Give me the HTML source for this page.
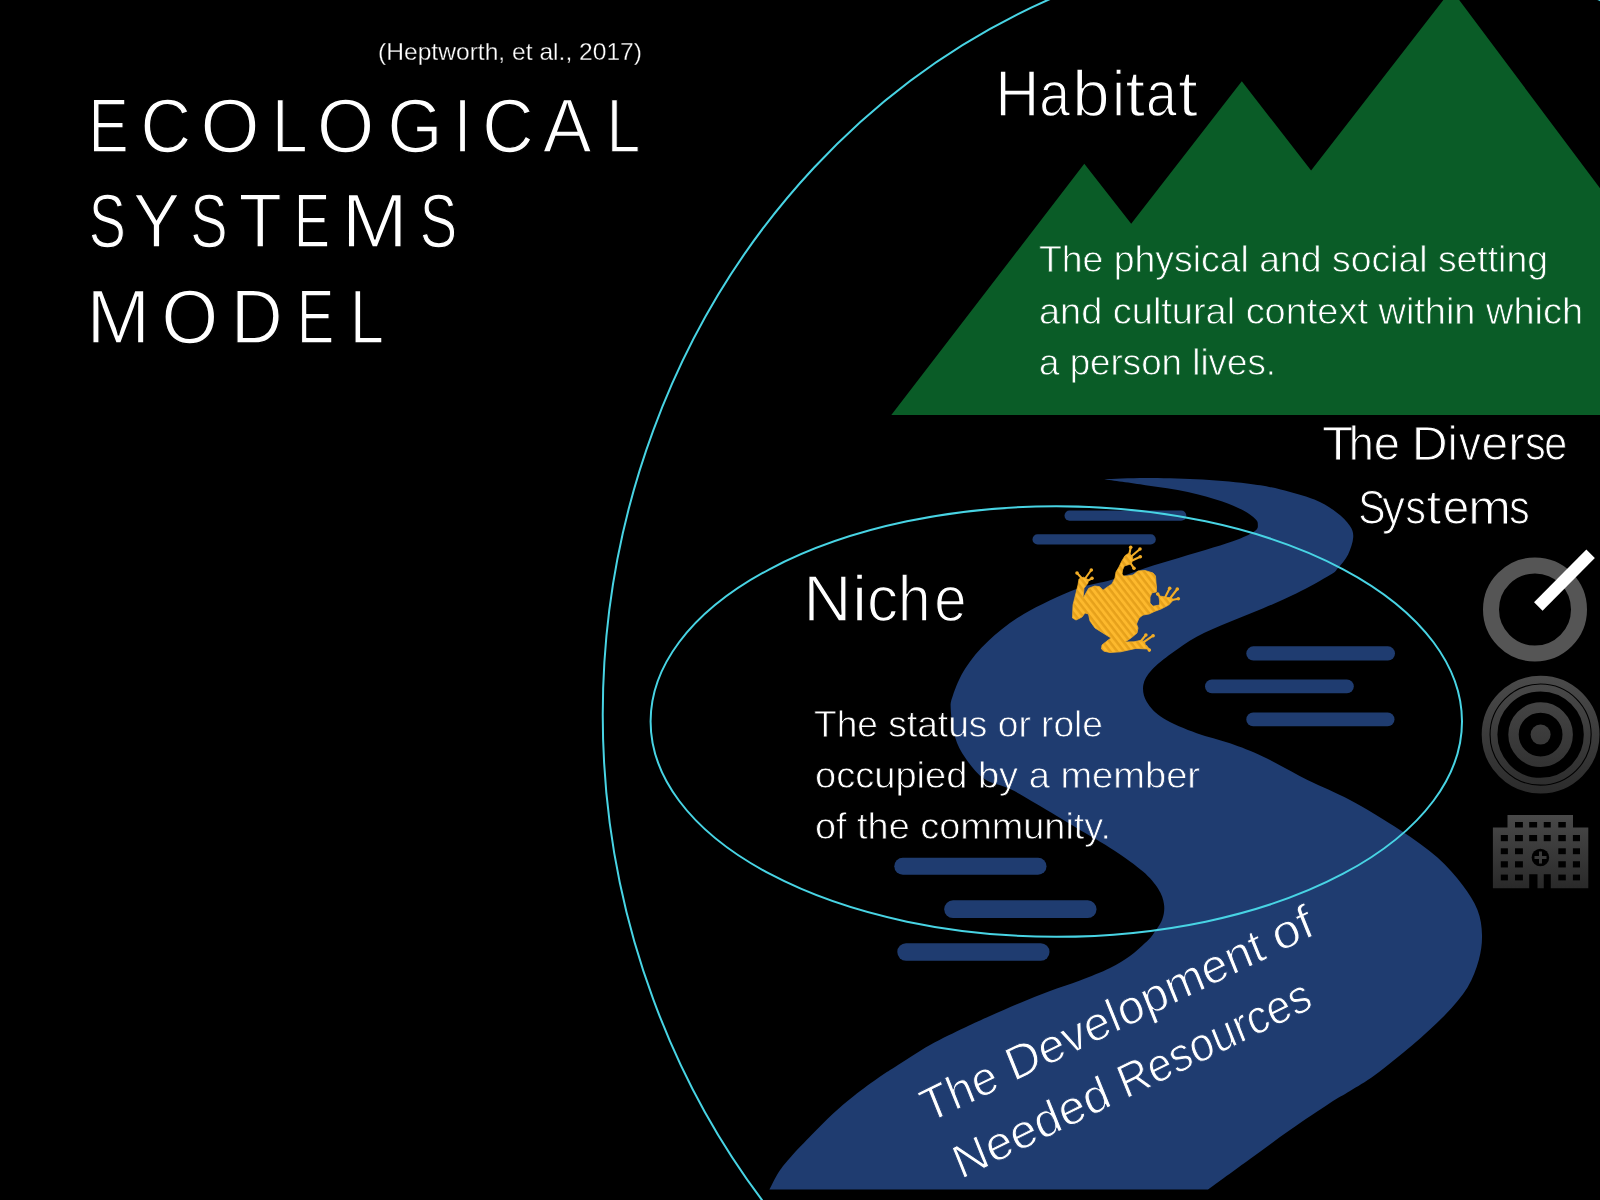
<!DOCTYPE html>
<html><head><meta charset="utf-8"><style>
html,body{margin:0;padding:0;background:#000;width:1600px;height:1200px;overflow:hidden}
svg{display:block}
text{font-family:"Liberation Sans",sans-serif;fill:#fff;stroke:#000}
</style></head><body>
<svg width="1600" height="1200" viewBox="0 0 1600 1200">
<defs>
<linearGradient id="g1" gradientUnits="userSpaceOnUse" x1="0" y1="678" x2="0" y2="792"><stop offset="0" stop-color="#4a4a4a"/><stop offset="1" stop-color="#2c2c2c"/></linearGradient>
<linearGradient id="g2" gradientUnits="userSpaceOnUse" x1="0" y1="815" x2="0" y2="889"><stop offset="0" stop-color="#494949"/><stop offset="1" stop-color="#292929"/></linearGradient>
<pattern id="stripe" width="5.4" height="5.4" patternUnits="userSpaceOnUse" patternTransform="rotate(52)"><rect width="5.4" height="5.4" fill="#fdb92d"/><rect width="5.4" height="2.5" fill="#e6a11b"/></pattern>
<mask id="tm" maskUnits="userSpaceOnUse" x="0" y="0" width="1600" height="1200">
<text id="cit" x="378.00" y="60.1" font-size="24" textLength="264.00" lengthAdjust="spacingAndGlyphs" stroke-width="0.3">(Heptworth, et al., 2017)</text>
<text id="t1" y="151.5" font-size="75.5" stroke-width="1.4"><tspan x="88.47" textLength="40.06" lengthAdjust="spacingAndGlyphs">E</tspan><tspan x="140.59" textLength="50.69" lengthAdjust="spacingAndGlyphs">C</tspan><tspan x="200.56" textLength="59.03" lengthAdjust="spacingAndGlyphs">O</tspan><tspan x="271.9" textLength="35.57" lengthAdjust="spacingAndGlyphs">L</tspan><tspan x="316.97" textLength="57.2" lengthAdjust="spacingAndGlyphs">O</tspan><tspan x="387.4" textLength="54.93" lengthAdjust="spacingAndGlyphs">G</tspan><tspan x="453.81" textLength="17.58" lengthAdjust="spacingAndGlyphs">I</tspan><tspan x="482.23" textLength="51.43" lengthAdjust="spacingAndGlyphs">C</tspan><tspan x="543.01" textLength="48.48" lengthAdjust="spacingAndGlyphs">A</tspan><tspan x="606.72" textLength="33.43" lengthAdjust="spacingAndGlyphs">L</tspan></text>
<text id="t2" y="247.2" font-size="75.5" stroke-width="1.4"><tspan x="88.77" textLength="37.13" lengthAdjust="spacingAndGlyphs">S</tspan><tspan x="133.0" textLength="47.0" lengthAdjust="spacingAndGlyphs">Y</tspan><tspan x="190.21" textLength="37.37" lengthAdjust="spacingAndGlyphs">S</tspan><tspan x="238.67" textLength="43.05" lengthAdjust="spacingAndGlyphs">T</tspan><tspan x="293.98" textLength="35.93" lengthAdjust="spacingAndGlyphs">E</tspan><tspan x="341.75" textLength="66.0" lengthAdjust="spacingAndGlyphs">M</tspan><tspan x="419.8" textLength="37.42" lengthAdjust="spacingAndGlyphs">S</tspan></text>
<text id="t3" y="342.5" font-size="75.5" stroke-width="1.4"><tspan x="86.48" textLength="63.63" lengthAdjust="spacingAndGlyphs">M</tspan><tspan x="161.6" textLength="56.63" lengthAdjust="spacingAndGlyphs">O</tspan><tspan x="230.88" textLength="51.64" lengthAdjust="spacingAndGlyphs">D</tspan><tspan x="297.08" textLength="37.17" lengthAdjust="spacingAndGlyphs">E</tspan><tspan x="349.95" textLength="33.87" lengthAdjust="spacingAndGlyphs">L</tspan></text>
<text id="hab" y="116" font-size="65" stroke-width="1.4"><tspan x="995.14" textLength="44.09" lengthAdjust="spacingAndGlyphs">H</tspan><tspan x="1039.21" textLength="30.73" lengthAdjust="spacingAndGlyphs">a</tspan><tspan x="1072.32" textLength="37.35" lengthAdjust="spacingAndGlyphs">b</tspan><tspan x="1112.34" textLength="12.64" lengthAdjust="spacingAndGlyphs">i</tspan><tspan x="1125.39" textLength="19.86" lengthAdjust="spacingAndGlyphs">t</tspan><tspan x="1145.99" textLength="30.73" lengthAdjust="spacingAndGlyphs">a</tspan><tspan x="1178.14" textLength="19.86" lengthAdjust="spacingAndGlyphs">t</tspan></text>
<text id="hd1" x="1039.00" y="272.4" font-size="37.8" textLength="509.00" lengthAdjust="spacingAndGlyphs" stroke-width="0.8">The physical and social setting</text>
<text id="hd2" x="1039.00" y="323.9" font-size="37.8" textLength="544.00" lengthAdjust="spacingAndGlyphs" stroke-width="0.8">and cultural context within which</text>
<text id="hd3" x="1039.00" y="374.7" font-size="37.8" textLength="237.00" lengthAdjust="spacingAndGlyphs" stroke-width="0.8">a person lives.</text>
<text id="dv1" y="460.2" font-size="48" stroke-width="1.0"><tspan x="1322.09" textLength="32.25" lengthAdjust="spacingAndGlyphs">T</tspan><tspan x="1348.82" textLength="25.11" lengthAdjust="spacingAndGlyphs">h</tspan><tspan x="1373.84" textLength="26.25" lengthAdjust="spacingAndGlyphs">e</tspan> <tspan x="1411.66" textLength="35.97" lengthAdjust="spacingAndGlyphs">D</tspan><tspan x="1447.68" textLength="9.86" lengthAdjust="spacingAndGlyphs">i</tspan><tspan x="1458.9" textLength="21.9" lengthAdjust="spacingAndGlyphs">v</tspan><tspan x="1481.52" textLength="26.61" lengthAdjust="spacingAndGlyphs">e</tspan><tspan x="1508.18" textLength="16.38" lengthAdjust="spacingAndGlyphs">r</tspan><tspan x="1525.27" textLength="20.4" lengthAdjust="spacingAndGlyphs">s</tspan><tspan x="1544.25" textLength="22.93" lengthAdjust="spacingAndGlyphs">e</tspan></text>
<text id="dv2" y="523.8" font-size="48" stroke-width="1.0"><tspan x="1358.18" textLength="27.21" lengthAdjust="spacingAndGlyphs">S</tspan><tspan x="1382.24" textLength="22.6" lengthAdjust="spacingAndGlyphs">y</tspan><tspan x="1405.47" textLength="20.4" lengthAdjust="spacingAndGlyphs">s</tspan><tspan x="1426.51" textLength="14.67" lengthAdjust="spacingAndGlyphs">t</tspan><tspan x="1442.72" textLength="26.55" lengthAdjust="spacingAndGlyphs">e</tspan><tspan x="1468.35" textLength="42.68" lengthAdjust="spacingAndGlyphs">m</tspan><tspan x="1509.22" textLength="20.4" lengthAdjust="spacingAndGlyphs">s</tspan></text>
<text id="nic" y="620.5" font-size="65" stroke-width="1.4"><tspan x="803.16" textLength="48.35" lengthAdjust="spacingAndGlyphs">N</tspan><tspan x="851.98" textLength="15.17" lengthAdjust="spacingAndGlyphs">i</tspan><tspan x="867.11" textLength="31.08" lengthAdjust="spacingAndGlyphs">c</tspan><tspan x="898.09" textLength="32.56" lengthAdjust="spacingAndGlyphs">h</tspan><tspan x="934.28" textLength="32.3" lengthAdjust="spacingAndGlyphs">e</tspan></text>
<text id="nd1" x="814.00" y="736.9" font-size="37.8" textLength="289.00" lengthAdjust="spacingAndGlyphs" stroke-width="0.8">The status or role</text>
<text id="nd2" x="815.00" y="788.2" font-size="37.8" textLength="385.00" lengthAdjust="spacingAndGlyphs" stroke-width="0.8">occupied by a member</text>
<text id="nd3" x="815.00" y="839.4" font-size="37.8" textLength="296.00" lengthAdjust="spacingAndGlyphs" stroke-width="0.8">of the community.</text>
<g transform="translate(931.3,1122.2) rotate(-26) skewX(-4)" stroke-width="1.0"><text y="0" font-size="47"><tspan x="-3.00" textLength="81.00" lengthAdjust="spacingAndGlyphs">The</tspan> <tspan x="91.50" textLength="283.00" lengthAdjust="spacingAndGlyphs">Development</tspan> <tspan x="386.50" textLength="42.50" lengthAdjust="spacingAndGlyphs">of</tspan></text><text y="64.5" font-size="47"><tspan x="5.75" textLength="170.25" lengthAdjust="spacingAndGlyphs">Needed</tspan> <tspan x="189.00" textLength="210.50" lengthAdjust="spacingAndGlyphs">Resources</tspan></text></g>
</mask>
</defs>
<rect width="1600" height="1200" fill="#000"/>
<polygon points="891.3,415 1084.3,163.8 1131.2,223.7 1241.8,81.2 1311.1,170.6 1451.4,-10.4 1600,188.3 1600,415" fill="#0a5c27"/>
<ellipse cx="1323.77" cy="714.85" rx="721.03" ry="773.73" fill="none" stroke="#48d4e4" stroke-width="2"/>
<path d="M1104.3,479.3 C1111.2,479.1 1130.3,478.1 1145.6,478.1 C1160.9,478.1 1179.3,478.4 1196.2,479.3 C1213.1,480.2 1232.8,481.8 1246.9,483.5 C1261.0,485.2 1269.3,486.7 1280.6,489.4 C1291.8,492.1 1305.1,495.7 1314.4,499.5 C1323.7,503.3 1330.4,507.8 1336.3,512.2 C1342.2,516.6 1347.0,521.5 1349.8,525.7 C1352.6,529.9 1353.5,532.7 1353.2,537.5 C1352.9,542.3 1350.6,549.3 1348.1,554.4 C1345.6,559.5 1341.0,564.5 1338.0,567.9 C1335.0,571.3 1336.9,570.8 1330.0,575.0 C1323.1,579.2 1307.8,587.8 1296.7,593.3 C1285.6,598.8 1274.4,603.6 1263.3,608.3 C1252.2,613.0 1241.1,617.0 1230.0,621.7 C1218.9,626.4 1206.4,631.4 1196.7,636.7 C1187.0,642.0 1179.2,647.8 1171.7,653.3 C1164.2,658.8 1156.4,664.7 1151.7,670.0 C1147.0,675.3 1144.1,679.7 1143.3,685.0 C1142.5,690.3 1143.4,696.2 1146.7,701.7 C1150.0,707.2 1155.0,713.0 1163.3,718.3 C1171.6,723.6 1185.6,729.1 1196.7,733.3 C1207.8,737.5 1218.9,739.4 1230.0,743.3 C1241.1,747.2 1250.4,750.6 1263.3,756.7 C1276.2,762.8 1293.0,772.8 1307.5,780.0 C1322.0,787.2 1334.6,791.7 1350.0,800.0 C1365.4,808.3 1385.4,820.4 1400.0,830.0 C1414.6,839.6 1427.1,848.3 1437.5,857.5 C1447.9,866.7 1455.8,876.2 1462.5,885.0 C1469.2,893.8 1474.2,901.7 1477.5,910.0 C1480.8,918.3 1481.8,926.7 1482.0,935.0 C1482.2,943.3 1481.2,951.2 1478.8,960.0 C1476.3,968.8 1473.1,978.3 1467.5,987.5 C1461.9,996.7 1454.2,1005.4 1445.0,1015.0 C1435.8,1024.6 1424.2,1035.0 1412.5,1045.0 C1400.8,1055.0 1385.4,1067.3 1375.0,1075.0 C1364.6,1082.7 1357.5,1086.3 1350.0,1091.0 C1342.5,1095.7 1340.0,1096.5 1330.0,1103.0 C1320.0,1109.5 1303.3,1120.7 1290.0,1130.0 C1276.7,1139.3 1263.7,1149.1 1250.0,1159.0 C1236.3,1168.9 1215.0,1184.5 1208.0,1189.6 L769.4,1189.6 C771.0,1186.7 775.1,1177.5 778.8,1172.0 C782.4,1166.5 785.7,1162.7 791.2,1156.5 C796.8,1150.3 805.1,1141.7 812.0,1134.6 C818.9,1127.5 825.9,1120.2 832.9,1113.8 C839.9,1107.3 845.9,1102.2 853.8,1096.0 C861.6,1089.8 872.9,1081.6 879.8,1076.8 C886.7,1072.0 886.6,1072.3 895.0,1067.0 C903.4,1061.7 918.3,1051.7 930.0,1045.1 C941.7,1038.5 955.0,1032.4 965.0,1027.6 C975.0,1022.7 980.8,1020.1 990.0,1016.0 C999.2,1011.9 1010.0,1007.2 1020.0,1003.0 C1030.0,998.8 1040.0,994.8 1050.0,991.0 C1060.0,987.2 1070.0,984.3 1080.0,980.5 C1090.0,976.7 1101.7,972.1 1110.0,968.0 C1118.3,963.9 1124.2,960.2 1130.0,956.0 C1135.8,951.8 1141.2,946.5 1145.0,943.0 C1148.8,939.5 1149.7,938.8 1152.6,934.9 C1155.5,931.0 1160.3,924.7 1162.2,919.6 C1164.1,914.5 1164.7,909.3 1164.0,904.2 C1163.3,899.1 1161.8,894.3 1158.3,888.9 C1154.8,883.5 1150.3,878.0 1143.0,871.6 C1135.7,865.2 1125.4,857.9 1114.2,850.5 C1103.0,843.1 1088.7,835.2 1075.9,827.5 C1063.1,819.8 1048.4,810.9 1037.5,804.5 C1026.6,798.1 1019.6,793.5 1010.7,789.2 C1001.8,784.9 991.5,784.0 984.0,778.8 C976.5,773.5 970.2,765.0 965.4,758.0 C960.6,751.0 957.4,745.0 955.0,737.0 C952.6,729.0 951.1,716.9 950.8,710.0 C950.4,703.1 950.5,702.4 952.9,695.4 C955.3,688.4 959.5,677.4 965.4,668.3 C971.3,659.2 978.6,650.0 988.3,641.0 C998.0,632.0 1009.2,622.6 1023.8,614.0 C1038.3,605.4 1061.1,594.9 1075.8,589.2 C1090.5,583.5 1100.3,583.2 1111.9,579.7 C1123.5,576.2 1134.3,571.6 1145.6,567.9 C1156.8,564.2 1168.2,561.1 1179.4,557.7 C1190.7,554.3 1203.3,550.7 1213.1,547.6 C1222.9,544.5 1231.4,542.0 1238.4,539.2 C1245.4,536.4 1252.1,533.2 1255.3,530.7 C1258.5,528.2 1257.8,526.0 1257.8,524.0 C1257.8,522.0 1257.7,521.1 1255.3,518.9 C1252.9,516.6 1249.1,513.5 1243.5,510.5 C1237.9,507.6 1230.9,504.3 1221.6,501.2 C1212.3,498.1 1200.5,494.6 1187.8,491.9 C1175.1,489.2 1159.5,487.3 1145.6,485.2 C1131.7,483.1 1111.2,480.3 1104.3,479.3 Z" fill="#1f3c70"/>
<g fill="#1f3c70">
<rect x="1064.5" y="510.5" width="121.8" height="10.3" rx="5.1"/>
<rect x="1032.5" y="534.2" width="123.3" height="10.3" rx="5.1"/>
<rect x="1246.3" y="646.3" width="148.7" height="14.2" rx="7.1"/>
<rect x="1205" y="679.5" width="148.8" height="13.8" rx="6.9"/>
<rect x="1246.3" y="712.5" width="148.2" height="13.8" rx="6.9"/>
<rect x="894.3" y="857.7" width="152.2" height="17.1" rx="8.5"/>
<rect x="944.2" y="900.3" width="152.3" height="17.7" rx="8.8"/>
<rect x="897.3" y="943.2" width="152.2" height="17.5" rx="8.7"/>
</g>
<ellipse cx="1056.3" cy="721.5" rx="405.7" ry="215.3" fill="none" stroke="#48d4e4" stroke-width="2"/>
<path d="M1138.0,571.0 L1145.0,570.5 L1153.0,573.0 L1155.5,576.0 L1156.0,583.0 L1156.5,587.0 L1156.3,592.0 L1152.0,592.8 L1150.0,597.0 L1150.0,603.0 L1153.0,606.2 L1159.5,605.0 L1159.7,601.0 L1159.0,597.0 L1161.0,596.2 L1165.0,597.0 L1171.7,598.0 L1173.3,600.0 L1168.7,605.0 L1161.0,609.0 L1155.0,611.2 L1149.0,614.0 L1143.0,615.0 L1139.0,618.0 L1136.5,624.0 L1138.0,628.0 L1137.0,633.0 L1131.0,638.0 L1125.0,642.0 L1134.0,641.8 L1140.0,640.5 L1144.5,641.5 L1145.5,645.5 L1148.0,649.0 L1135.9,648.4 L1120.5,651.8 L1110.0,652.5 L1104.0,651.2 L1101.5,649.0 L1102.0,645.0 L1107.0,641.0 L1111.0,638.0 L1103.0,633.0 L1095.0,628.0 L1090.0,621.0 L1088.5,614.0 L1085.0,613.0 L1082.0,617.0 L1076.0,620.0 L1072.5,618.0 L1073.0,605.0 L1074.7,598.3 L1078.0,585.0 L1079.0,579.0 L1083.5,577.2 L1088.0,579.5 L1088.0,583.0 L1084.0,588.3 L1083.0,598.3 L1088.7,588.3 L1094.7,586.0 L1099.7,586.7 L1103.0,590.3 L1106.3,587.7 L1112.0,584.0 L1115.0,578.0 L1116.0,572.0 L1119.0,567.0 L1121.7,561.3 L1125.0,555.7 L1128.7,553.3 L1131.0,555.0 L1132.7,557.3 L1131.7,563.0 L1130.7,564.0 L1124.3,566.0 L1122.5,570.0 L1122.0,574.0 L1123.5,576.0 L1127.0,576.0 L1133.0,575.0 Z" fill="url(#stripe)" stroke="#f2ad26" stroke-width="0.8" stroke-linejoin="round"/><path d="M1129.3,554.5 L1130.7,547.3 M1131.8,556.0 L1140.0,549.0 M1132.2,560.5 L1140.3,556.7 M1131.0,563.8 L1134.0,568.3 M1082.0,578.5 L1077.0,573.0 M1085.5,578.0 L1091.3,570.0 M1087.2,581.0 L1092.0,578.3 M1160.0,597.0 L1157.7,594.0 M1165.0,597.5 L1169.7,588.3 M1170.0,598.5 L1177.3,589.0 M1172.0,600.0 L1178.3,598.7 M1141.0,641.0 L1145.9,635.0 M1144.0,641.8 L1153.1,635.7 M1146.0,646.0 L1149.3,650.1 " stroke="#f2ad26" stroke-width="2.1" stroke-linecap="round" fill="none"/><g fill="#f2ad26"><circle cx="1130.7" cy="547.3" r="1.8"/><circle cx="1140.0" cy="549.0" r="1.8"/><circle cx="1140.3" cy="556.7" r="1.8"/><circle cx="1134.0" cy="568.3" r="1.8"/><circle cx="1077.0" cy="573.0" r="1.8"/><circle cx="1091.3" cy="570.0" r="1.8"/><circle cx="1092.0" cy="578.3" r="1.8"/><circle cx="1157.7" cy="594.0" r="1.8"/><circle cx="1169.7" cy="588.3" r="1.8"/><circle cx="1177.3" cy="589.0" r="1.8"/><circle cx="1178.3" cy="598.7" r="1.8"/><circle cx="1145.9" cy="635.0" r="1.8"/><circle cx="1153.1" cy="635.7" r="1.8"/><circle cx="1149.3" cy="650.1" r="1.8"/></g>
<circle cx="1535" cy="609.5" r="44" fill="none" stroke="#555" stroke-width="16"/>
<line x1="1538.3" y1="606.4" x2="1590.6" y2="553.8" stroke="#fff" stroke-width="12"/>
<g fill="none" stroke="url(#g1)">
<circle cx="1540.6" cy="734.6" r="55" stroke-width="7.8"/>
<circle cx="1540.6" cy="734.6" r="46.6" stroke-width="6.8"/>
<circle cx="1540.6" cy="734.6" r="27.1" stroke-width="10.4"/>
</g>
<circle cx="1540.6" cy="734.6" r="10" fill="url(#g1)"/>
<path d="M1507.5,815 H1573 V827.5 H1588.3 V888.3 H1550.8 V874.2 H1543.75 V888.3 H1537.5 V874.2 H1529.2 V888.3 H1492.9 V827.5 H1507.5 Z" fill="url(#g2)"/>
<g fill="#000"><rect x="1515" y="822" width="7.9" height="5.5"/><rect x="1529.2" y="822" width="7.9" height="5.5"/><rect x="1543.75" y="822" width="7.0" height="5.5"/><rect x="1558.3" y="822" width="7.5" height="5.5"/><rect x="1500.8" y="835" width="7.1" height="6.2"/><rect x="1515" y="835" width="7.9" height="6.2"/><rect x="1529.2" y="835" width="7.9" height="6.2"/><rect x="1543.75" y="835" width="7.0" height="6.2"/><rect x="1558.3" y="835" width="7.5" height="6.2"/><rect x="1572.9" y="835" width="7.1" height="6.2"/><rect x="1500.8" y="848.3" width="7.1" height="5.9"/><rect x="1515" y="848.3" width="7.9" height="5.9"/><rect x="1558.3" y="848.3" width="7.5" height="5.9"/><rect x="1572.9" y="848.3" width="7.1" height="5.9"/><rect x="1500.8" y="861.25" width="7.1" height="6.2"/><rect x="1515" y="861.25" width="7.9" height="6.2"/><rect x="1558.3" y="861.25" width="7.5" height="6.2"/><rect x="1572.9" y="861.25" width="7.1" height="6.2"/><rect x="1500.8" y="874.6" width="7.1" height="5.8"/><rect x="1515" y="874.6" width="7.9" height="5.8"/><rect x="1558.3" y="874.6" width="7.5" height="5.8"/><rect x="1572.9" y="874.6" width="7.1" height="5.8"/><circle cx="1540.4" cy="857.5" r="8.75"/></g>
<path d="M1539,851.5 h3 v4.5 h4.5 v3 h-4.5 v4.5 h-3 v-4.5 h-4.5 v-3 h4.5 Z" fill="#3a3a3a"/>
<rect width="1600" height="1200" fill="#fff" mask="url(#tm)"/>
</svg>
</body></html>
